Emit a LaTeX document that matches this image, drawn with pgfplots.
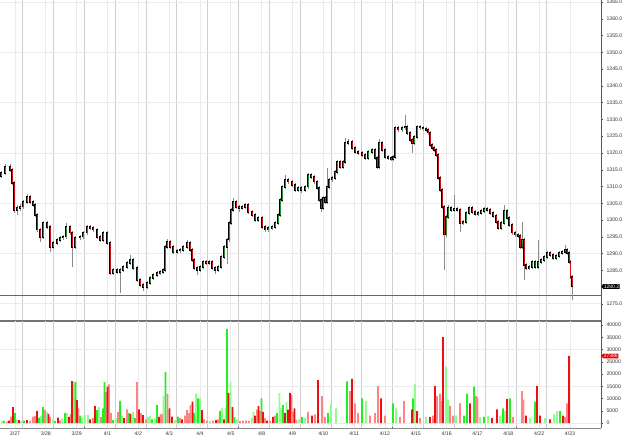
\documentclass[border=0pt]{standalone}
\usepackage{pgfplots}
\pgfplotsset{compat=1.18}
\usepackage{pgfplotstable}
\usepackage{fontspec}
\setmainfont{Liberation Sans}
\usetikzlibrary{shapes.symbols}

\definecolor{gridlight}{HTML}{EBEBEB}
\definecolor{griddark}{HTML}{CFCFCF}
\definecolor{upc}{HTML}{2E8B3A}
\definecolor{dnc}{HTML}{C81414}
\definecolor{vg}{HTML}{22EE22}
\definecolor{vlg}{HTML}{8CFF8C}
\definecolor{vr}{HTML}{EE1010}
\definecolor{vlr}{HTML}{FF8484}
\definecolor{pline}{HTML}{5A5AC8}

\pgfplotstableread{
x o h l c
1 1313.0 1314.6 1312.4 1314.0
5 1314.0 1316.8 1313.4 1315.8
10 1315.8 1316.6 1314.3 1314.9
12 1314.9 1315.5 1310.5 1311.1
14 1311.1 1311.7 1302.0 1303.0
17 1303.0 1304.5 1301.5 1303.6
20 1303.6 1304.8 1302.8 1304.0
23 1304.0 1306.0 1303.4 1305.4
27 1305.4 1307.8 1304.8 1306.9
30 1306.9 1307.5 1304.8 1305.4
33 1305.4 1306.0 1303.9 1304.5
35 1304.5 1305.1 1300.9 1301.5
37 1301.5 1302.1 1296.5 1297.1
40 1297.1 1297.7 1293.5 1295.0
43 1295.0 1299.7 1294.4 1299.1
47 1299.1 1299.7 1297.3 1297.9
50 1297.9 1298.5 1290.5 1292.0
53 1292.0 1293.8 1291.4 1293.2
57 1293.2 1294.7 1292.6 1294.1
60 1294.1 1295.3 1293.5 1294.7
63 1294.7 1295.6 1294.1 1295.0
66 1295.0 1299.0 1294.4 1297.9
70 1297.9 1298.5 1295.6 1296.2
72 1296.2 1296.8 1286.0 1292.0
75 1292.0 1295.3 1291.4 1294.7
80 1294.7 1295.6 1294.1 1295.0
83 1295.0 1296.8 1294.4 1296.2
87 1296.2 1298.5 1295.6 1297.9
90 1297.9 1298.5 1297.0 1297.6
93 1297.6 1298.2 1296.5 1297.1
97 1297.1 1297.7 1294.4 1295.0
100 1295.0 1295.6 1293.5 1294.1
103 1294.1 1296.8 1293.5 1296.2
107 1296.2 1296.8 1292.6 1293.2
110 1293.2 1293.8 1283.6 1284.2
113 1284.2 1285.7 1283.6 1285.1
117 1285.1 1285.7 1283.9 1284.5
120 1284.5 1285.7 1278.3 1285.1
123 1285.1 1286.6 1284.5 1286.0
127 1286.0 1287.8 1285.4 1287.2
130 1287.2 1289.5 1286.6 1288.1
133 1288.1 1288.7 1285.1 1285.7
137 1285.7 1286.3 1281.5 1282.1
140 1282.1 1282.7 1280.0 1280.6
143 1280.6 1281.2 1279.0 1280.0
147 1280.0 1281.8 1279.4 1281.2
150 1281.2 1283.3 1280.6 1282.7
153 1282.7 1284.2 1282.1 1283.6
157 1283.6 1284.8 1283.0 1284.2
160 1284.2 1285.1 1283.6 1284.5
163 1284.5 1285.7 1283.9 1285.1
165 1285.1 1292.6 1284.5 1292.0
167 1292.0 1294.5 1291.4 1293.5
170 1293.5 1294.1 1291.4 1292.0
173 1292.0 1292.6 1289.9 1290.5
177 1290.5 1291.5 1289.9 1290.9
180 1290.9 1291.7 1290.3 1291.1
183 1291.1 1292.6 1290.5 1292.0
187 1292.0 1294.0 1291.4 1293.2
190 1293.2 1293.8 1290.5 1291.1
192 1291.1 1291.7 1287.5 1288.1
194 1288.1 1288.7 1285.1 1285.7
197 1285.7 1286.3 1283.5 1285.1
200 1285.1 1286.6 1284.5 1286.0
203 1286.0 1288.1 1285.4 1287.5
206 1287.5 1288.1 1286.6 1287.2
209 1287.2 1288.1 1286.6 1287.5
212 1287.5 1288.1 1285.1 1285.7
215 1285.7 1286.3 1284.0 1285.1
218 1285.1 1286.6 1284.5 1286.0
221 1286.0 1289.6 1285.4 1289.0
224 1289.0 1292.6 1288.4 1292.0
227 1292.0 1294.7 1287.0 1294.1
229 1294.1 1299.7 1293.5 1299.1
231 1299.1 1303.6 1298.5 1303.0
233 1303.0 1306.5 1302.4 1305.4
236 1305.4 1306.0 1303.3 1303.9
239 1303.9 1304.5 1302.5 1303.6
242 1303.6 1304.5 1303.0 1303.9
245 1303.9 1305.1 1303.3 1304.5
248 1304.5 1305.1 1301.8 1302.4
252 1302.4 1303.0 1300.9 1301.5
255 1301.5 1302.1 1299.4 1300.0
258 1300.0 1301.2 1299.4 1300.6
262 1300.6 1301.2 1297.3 1297.9
265 1297.9 1298.5 1296.5 1297.1
268 1297.1 1298.2 1296.5 1297.6
272 1297.6 1298.5 1297.0 1297.9
275 1297.9 1299.7 1297.3 1299.1
278 1299.1 1302.1 1298.5 1301.5
280 1301.5 1306.6 1300.9 1306.0
282 1306.0 1310.5 1305.4 1309.9
285 1309.9 1313.5 1309.3 1312.0
288 1312.0 1312.6 1310.8 1311.4
292 1311.4 1312.0 1309.9 1310.5
295 1310.5 1311.1 1308.4 1309.0
298 1309.0 1310.2 1308.4 1309.6
301 1309.6 1310.2 1308.0 1309.0
305 1309.0 1310.5 1308.4 1309.9
308 1309.9 1314.0 1309.3 1313.4
311 1313.4 1314.0 1312.2 1312.8
314 1312.8 1313.4 1310.8 1311.4
317 1311.4 1312.0 1309.0 1309.6
319 1309.6 1310.2 1305.4 1306.0
321 1306.0 1306.6 1302.5 1303.6
323 1303.6 1307.2 1303.0 1306.6
325 1306.6 1307.2 1304.8 1305.4
327 1305.4 1315.5 1304.8 1309.9
329 1309.9 1312.6 1309.3 1312.0
332 1312.0 1313.1 1311.4 1312.5
335 1312.5 1314.9 1311.9 1314.3
337 1314.3 1317.9 1313.7 1317.3
340 1317.3 1317.9 1315.2 1315.8
343 1315.8 1317.9 1315.2 1317.3
345 1317.3 1324.5 1316.7 1323.0
348 1323.0 1324.2 1322.4 1323.3
352 1323.3 1323.9 1320.9 1321.5
355 1321.5 1322.1 1319.7 1320.3
358 1320.3 1320.9 1319.4 1320.0
362 1320.0 1320.6 1318.8 1319.4
365 1319.4 1320.0 1317.9 1318.5
368 1318.5 1320.9 1317.9 1320.3
372 1320.3 1321.5 1319.7 1320.9
375 1320.9 1321.5 1317.9 1318.5
377 1318.5 1319.1 1315.2 1315.8
379 1315.8 1324.2 1315.2 1323.0
382 1323.0 1323.6 1320.3 1320.9
385 1320.9 1321.5 1318.2 1318.8
388 1318.8 1319.4 1317.9 1318.5
391 1318.5 1319.1 1317.6 1318.2
393 1318.2 1319.4 1317.6 1318.8
395 1318.8 1328.1 1318.2 1327.5
398 1327.5 1328.1 1326.3 1326.9
402 1326.9 1328.1 1326.3 1327.5
405 1327.5 1331.3 1326.9 1327.7
407 1327.7 1328.3 1325.4 1326.0
410 1326.0 1326.6 1323.3 1323.9
412 1323.9 1324.5 1320.0 1323.0
414 1323.0 1325.4 1322.4 1324.8
417 1324.8 1328.3 1324.2 1327.7
420 1327.7 1328.3 1326.9 1327.5
423 1327.5 1328.1 1326.6 1327.2
426 1327.2 1327.8 1326.3 1326.9
428 1326.9 1327.5 1325.4 1326.0
430 1326.0 1326.6 1321.8 1322.4
432 1322.4 1323.0 1320.9 1321.5
434 1321.5 1322.1 1320.3 1320.9
436 1320.9 1321.5 1318.8 1319.4
438 1319.4 1320.0 1311.9 1312.5
440 1312.5 1313.1 1308.4 1309.0
442 1309.0 1309.6 1303.3 1303.9
444 1303.9 1304.5 1285.1 1295.6
446 1295.6 1301.5 1295.0 1300.9
448 1300.9 1304.5 1300.3 1303.6
451 1303.6 1304.2 1302.4 1303.0
454 1303.0 1307.5 1302.4 1303.3
457 1303.3 1303.9 1302.4 1303.0
460 1303.0 1303.6 1296.5 1299.1
463 1299.1 1300.0 1298.5 1299.4
466 1299.4 1302.7 1298.8 1302.1
469 1302.1 1304.2 1301.5 1303.6
472 1303.6 1304.2 1301.8 1302.4
475 1302.4 1303.0 1301.2 1301.8
478 1301.8 1302.7 1301.2 1302.1
481 1302.1 1303.3 1301.5 1302.7
484 1302.7 1303.9 1302.1 1303.3
487 1303.3 1303.9 1302.4 1303.0
490 1303.0 1303.6 1301.5 1302.1
493 1302.1 1302.7 1300.6 1301.2
496 1301.2 1301.8 1298.8 1299.4
498 1299.4 1300.0 1297.0 1297.6
501 1297.6 1299.7 1297.0 1299.1
504 1299.1 1304.5 1298.5 1302.7
507 1302.7 1303.3 1300.0 1300.6
509 1300.6 1301.2 1297.9 1298.5
512 1298.5 1299.1 1295.6 1296.2
515 1296.2 1296.8 1295.0 1295.6
518 1295.6 1296.2 1294.7 1295.3
520 1295.3 1295.9 1291.4 1292.0
522 1292.0 1299.5 1291.4 1294.0
524 1294.0 1294.6 1282.1 1286.6
526 1286.6 1287.2 1285.1 1285.7
529 1285.7 1286.6 1285.1 1286.0
532 1286.0 1288.1 1285.4 1287.5
535 1287.5 1288.1 1285.4 1286.0
538 1286.0 1294.1 1285.4 1287.5
541 1287.5 1288.7 1286.9 1288.1
544 1288.1 1289.6 1287.5 1289.0
547 1289.0 1290.8 1288.4 1290.2
550 1290.2 1290.8 1289.0 1289.6
553 1289.6 1290.2 1288.1 1288.7
556 1288.7 1289.9 1288.1 1289.3
559 1289.3 1290.8 1288.7 1290.2
562 1290.2 1291.1 1289.6 1290.5
565 1290.5 1292.5 1289.9 1291.1
567 1291.1 1291.7 1289.6 1290.2
569 1290.2 1290.8 1286.9 1287.5
570.5 1287.5 1288.1 1282.4 1283.0
572 1283.0 1283.6 1276.2 1280.2
}\candles

\pgfplotsset{
  chartbase/.style={
    scale only axis, width=601bp, clip=false,
    xmin=0, xmax=601,
    axis x line*=bottom, axis y line*=right,
    axis line style={draw=black!65, line width=0.6bp},
    xtick={15,45.8,76.7,107.5,138.3,169.2,200,230.8,261.7,292.5,323.3,354.2,385,415.8,446.7,477.5,508.3,539.2,570},
    minor xtick={22.7,53.5,84.4,115.2,146,176.9,207.7,238.5,269.4,300.2,331,361.9,392.7,423.5,454.4,485.2,516,546.9},
    xmajorgrids, xminorgrids,
    major x grid style={draw=gridlight, line width=0.8bp},
    minor x grid style={draw=griddark, line width=0.9bp},
    xtick style={draw=none},
    ytick style={draw=black!70, line width=0.4bp},
    tick align=outside, major tick length=2bp,
    ticklabel style={font=\fontsize{5.2}{6}\selectfont, text=black!80},
    /pgf/number format/assume math mode=true,
    extra y tick labels={},
    extra y tick style={ymajorgrids, major y grid style={draw=gridlight, line width=0.8bp}, ytick style={draw=none}},
  },
  candle/.style={draw=none, mark=none, forget plot, unbounded coords=discard},
}

\begin{document}
\begin{tikzpicture}
% ---------- Price panel ----------
\begin{axis}[chartbase, name=price,
  at={(0,107bp)}, anchor=south west, height=321bp,
  ymin=1269.9, ymax=1365.6,
  xticklabels={},
  ytick={1275,1285,1290,...,1365},
  yticklabel style={/pgf/number format/.cd, fixed, fixed zerofill, precision=1, 1000 sep={}},
  extra y ticks={1275,1290,1305,1320,1335,1350,1365},
  x axis line style={draw=black!55, line width=1.6bp},
]
\addplot[pline, line width=0.6bp] coordinates {(0,1277.7) (601,1277.7)};
% wicks
\addplot[candle, error bars/.cd, y dir=both, y explicit, error mark=none,
  error bar style={draw=black!45, line width=0.5bp}]
  table[x=x, y expr={(\thisrow{h}+\thisrow{l})/2}, y error expr={(\thisrow{h}-\thisrow{l})/2}] {\candles};
% bodies (outline)
\addplot[candle, error bars/.cd, y dir=both, y explicit, error mark=none,
  error bar style={draw=black, line width=1.9bp}]
  table[x=x, y expr={(\thisrow{o}+\thisrow{c})/2}, y error expr={abs(\thisrow{c}-\thisrow{o})/2+0.2}] {\candles};
% up bodies
\addplot[candle, error bars/.cd, y dir=both, y explicit, error mark=none,
  error bar style={draw=upc, line width=0.8bp}]
  table[x=x, y expr={\thisrow{c}>\thisrow{o} ? (\thisrow{o}+\thisrow{c})/2 : nan}, y error expr={abs(\thisrow{c}-\thisrow{o})/2}] {\candles};
% down bodies
\addplot[candle, error bars/.cd, y dir=both, y explicit, error mark=none,
  error bar style={draw=dnc, line width=0.8bp}]
  table[x=x, y expr={\thisrow{c}<\thisrow{o} ? (\thisrow{o}+\thisrow{c})/2 : nan}, y error expr={abs(\thisrow{c}-\thisrow{o})/2}] {\candles};
\node[signal, signal to=west, signal pointer angle=100, fill=black, text=white, inner sep=0.6bp,
  font=\fontsize{5}{5}\selectfont, anchor=west] at (axis cs:601,1280.2) {1280.2};
\end{axis}

% ---------- Volume panel ----------
\begin{axis}[chartbase, name=vol,
  at={(0,0)}, anchor=south west, height=107bp,
  ymin=-2040, ymax=41630,
  xticklabels={3/27,3/28,3/29,4/1,4/2,4/3,4/4,4/5,4/8,4/9,4/10,4/11,4/12,4/15,4/16,4/17,4/18,4/22,4/23},
  xticklabel style={yshift=1.5bp},
  scaled y ticks=false,
  ytick={0,5000,...,40000},
  yticklabel style={/pgf/number format/.cd, fixed, precision=0, 1000 sep={}},
  extra y ticks={0,15000,30000},
  x axis line style={draw=black!45, line width=0.8bp},
]
\addplot[ybar, bar width=1.7bp, bar shift=0pt, fill=vlg, draw=none] coordinates {
(2,800) (17,1500) (21,800) (41,3000) (47,4500) (53,1500) (62,1800) (67,4000) (74,16800) (82,2000) (85,3200) (88,3200) (99,6500) (116,2000) (122,3000) (133,4500) (148,2500) (150,3000) (155,1800) (163.5,11000) (175,1200) (196,12000) (200,10000) (210,800) (222,6000) (225.5,6000) (230.5,16800) (237,1500) (252,2000) (253.5,4500) (279.5,12200) (281,6000) (286.5,8700) (299,1500) (305,2000) (331,8000) (336,6000) (366,9000) (396,6000) (415,16000) (426,2500) (446,23000) (448,9500) (456,3000) (480,2500) (488,3000) (500,3000) (505,5000) (530,2000) (545,2000) (554,3500) (557,4800)};
\addplot[ybar, bar width=1.7bp, bar shift=0pt, fill=vlr, draw=none] coordinates {
(7,600) (11,2600) (30,900) (33,2600) (35,2800) (45,5500) (50,2500) (60,1000) (70.5,3500) (78.5,6000) (93,2000) (101,2500) (106,12600) (109,15800) (111,4000) (118,4500) (127,5600) (137,16700) (141,4000) (146,1500) (160.5,3600) (162,3500) (167.5,12000) (180,2000) (185,3000) (187,5300) (189,4000) (190.5,7300) (204,1500) (207,1000) (213,1000) (218,1500) (240,800) (243,1000) (246,1000) (249,900) (257,5500) (260,5000) (265,2000) (270,1000) (275,3000) (291.5,11600) (293,4500) (296.5,1200) (308,4500) (315,3500) (322,11000) (325,2500) (350,13000) (355,8000) (358,4000) (370,3000) (375,4000) (378,15000) (385,3000) (400,2500) (404,9000) (420,2000) (433,3000) (437,11000) (440,12000) (442,9000) (450,7000) (453,3000) (460,8000) (476,11000) (477.5,10500) (513,2500) (522,13000) (523.5,9500) (565,2500) (567,8000)};
\addplot[ybar, bar width=1.7bp, bar shift=0pt, fill=vg, draw=none] coordinates {
(4,900) (15,4000) (24,1000) (39,2200) (43,6500) (55,800) (65,4000) (75.5,16800) (80,3000) (97,5300) (103,6000) (104.5,16700) (113,1200) (120,9000) (129,4000) (135,2000) (152,1500) (157,7300) (165.5,20800) (178,2600) (194,4000) (198,10000) (220,5000) (227,38400) (234.5,2500) (261.5,10000) (277,4000) (283,7300) (302,2400) (328,4000) (347,17000) (362,10000) (393,8000) (413,10000) (464,3000) (467,12000) (474,14800) (484,2500) (503,6000) (510,10000) (535,8700) (560,5000)};
\addplot[ybar, bar width=1.7bp, bar shift=0pt, fill=vr, draw=none] coordinates {
(9,1000) (13,6500) (19,1200) (27,1200) (37,4900) (48.5,3700) (58,2200) (69,2500) (72,17100) (77,9400) (90,1500) (95,7000) (107.5,14800) (124,2000) (130.5,3600) (139,5600) (143,3200) (159,2500) (169.5,6000) (172,2600) (182,1500) (192.5,8700) (202,5300) (216,1200) (224,1500) (228.5,12300) (232.5,6500) (255,3000) (258.5,6900) (263,4500) (267,1000) (273,2500) (285,4000) (288,5500) (290,12300) (294.5,6000) (312,3000) (318,17500) (352,18000) (381,10000) (412,5600) (417,4800) (430,2500) (435,15000) (443,35000) (470,8000) (492,2000) (497,5600) (507,9800) (526,3000) (537,15000) (540,3000) (550,1500) (563,3000) (569,27400)};
\node[signal, signal to=west, signal pointer angle=100, fill=red!90!black, text=white, inner sep=0.6bp,
  font=\fontsize{5}{5}\selectfont, anchor=west] at (axis cs:601,27386) {27386};
\draw[black!70, line width=0.5bp] (axis cs:84.4,-2040) -- ++(0,-4bp);
\draw[black!70, line width=0.5bp] (axis cs:238.5,-2040) -- ++(0,-4bp);
\draw[black!70, line width=0.5bp] (axis cs:392.7,-2040) -- ++(0,-4bp);
\draw[black!70, line width=0.5bp] (axis cs:516,-2040) -- ++(0,-4bp);
\end{axis}
\pgfresetboundingbox
\path (0,-11bp) rectangle (625bp,428bp);
\end{tikzpicture}
\end{document}
